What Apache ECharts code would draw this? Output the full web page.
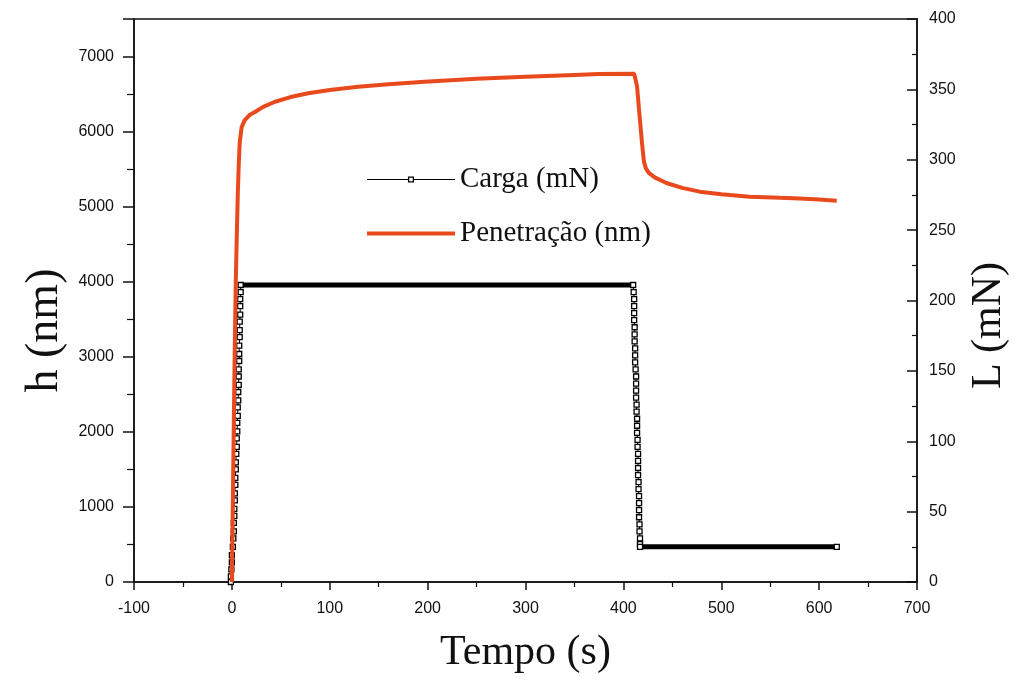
<!DOCTYPE html>
<html>
<head>
<meta charset="utf-8">
<script src="https://cdn.jsdelivr.net/npm/echarts@6/dist/echarts.min.js"></script>
<style>html,body{margin:0;padding:0;background:#fff}#c{width:1018px;height:681px}</style>
</head>
<body>
<div id="c"></div>
<script>
// Penetração (nm) — left axis
const penT = [0,1,2,3,4,5,6,7,8,10,13,18,24,32,44,60,78,100,129,160,197,250,300,350,375,411,412,414,416,418,419,421,423,426,432,444,460,478,500,529,560,580,600,618];
const penH = [0,1050,2150,3150,4000,4600,5150,5550,5850,6060,6150,6220,6265,6330,6398,6460,6510,6555,6598,6630,6665,6705,6730,6755,6767,6770,6720,6600,6290,6000,5850,5600,5510,5450,5390,5315,5250,5200,5165,5133,5118,5110,5095,5080];

// Carga (mN) — right axis
const cargaT = [-1,-1,-0.5,0,0,1,1.5,2,2,2.5,2.5,3,3,3.5,3.5,4,4,4.5,5,5,5.5,5.5,6,6,6.5,6.5,7,7,7,7.5,7.5,7.5,8,8,8,8.5,8.5,8.5,9,9,
  410,410.5,411,411,411,411,411.5,411.5,411.5,412,412,412,412.5,413,413,413,413,413.5,413.5,414,414,414,414.5,414.5,415,415,415,415,415.5,415.5,416,416,416,416,416.5,416.5,417,417,417,618];
const cargaL = [0,4,9,14,19,25,31,36,42,47,52,58,63,69,74,80,85,91,96,102,107,113,118,124,129,135,140,146,151,157,162,168,174,179,185,190,196,201,206,211,
  211,206,201,196,191,186,181,176,171,166,161,156,151,146,141,136,131,126,121,116,111,106,101,96,91,86,81,76,71,66,61,56,51,46,41,36,31,27,25,25];

const xTicks = {min:-100, max:700, interval:100};
const hAxis = {min:0, max:7500, interval:1000};
const lAxis = {min:0, max:400, interval:50};

const names = {x:'Tempo (s)', h:'h (nm)', l:'L (mN)', carga:'Carga (mN)', pen:'Penetração (nm)'};

const penData = penT.map((t,i)=>[t,penH[i]]);
const cargaData = cargaT.map((t,i)=>[t,cargaL[i]]);
// long constant holds (densely sampled in the original) drawn as a solid band
const holdData = [];
for (let i=0;i<cargaT.length-1;i++){
  if (cargaL[i]===cargaL[i+1] && cargaT[i+1]-cargaT[i]>20){
    holdData.push(cargaData[i], cargaData[i+1], null);
  }
}

const RED = '#e84a1d';
const tickFont = {fontFamily:'Liberation Sans, Arial, sans-serif', fontSize:16, color:'#111', formatter:(v)=>String(v)};
const serif = 'Liberation Serif, Times New Roman, serif';
const nameFont = {fontFamily:serif, fontSize:42, color:'#111'};
const axisLineStyle = {color:'#111', width:1.5};

// legend icons (line with a small hollow square / thick red line)
const cargaIcon = 'path://M0,6.4L40,6.4L40,7.6L0,7.6Z M40,4L46,4L46,10L40,10Z M41.3,5.3L41.3,8.7L44.7,8.7L44.7,5.3Z M46,6.4L86,6.4L86,7.6L46,7.6Z';
const penIcon = 'path://M0,0L88,0L88,4L0,4Z';

const chart = echarts.init(document.getElementById('c'), null, {renderer:'canvas'});
chart.setOption({
  backgroundColor:'#fff',
  animation:false,
  grid:{left:134, right:100, top:19, bottom:99, show:true, borderColor:'#111', borderWidth:1.5, containLabel:false},
  legend:{
    data:[
      {name:names.carga, icon:cargaIcon, itemStyle:{color:'#000', borderWidth:0}},
      {name:names.pen, icon:penIcon, itemStyle:{color:RED, borderWidth:0}}
    ],
    orient:'vertical', left:362, top:160, itemWidth:88, itemHeight:14, itemGap:25,
    textStyle:{fontFamily:serif, fontSize:29, color:'#111'},
    selectedMode:false
  },
  xAxis:{
    type:'value', min:xTicks.min, max:xTicks.max, interval:xTicks.interval,
    name:names.x, nameLocation:'middle', nameGap:50, nameTextStyle:nameFont,
    axisLine:{show:true, onZero:false, lineStyle:axisLineStyle},
    axisTick:{show:true, inside:false, length:8, lineStyle:{color:'#111', width:1.5}},
    minorTick:{show:true, splitNumber:2, length:5, lineStyle:{color:'#111', width:1.2}},
    axisLabel:Object.assign({margin:19}, tickFont),
    splitLine:{show:false}
  },
  yAxis:[{
    type:'value', position:'left', min:hAxis.min, max:hAxis.max, interval:hAxis.interval,
    name:names.h, nameLocation:'middle', nameGap:60, nameRotate:90,
    nameTextStyle:Object.assign({}, nameFont, {fontSize:46, padding:[0,60,0,0]}),
    axisLine:{show:true, onZero:false, lineStyle:axisLineStyle},
    axisTick:{show:true, inside:false, length:11, lineStyle:{color:'#111', width:1.5}},
    minorTick:{show:true, splitNumber:2, length:7, lineStyle:{color:'#111', width:1.2}},
    axisLabel:Object.assign({margin:20, showMaxLabel:false}, tickFont),
    splitLine:{show:false}
  },{
    type:'value', position:'right', min:lAxis.min, max:lAxis.max, interval:lAxis.interval,
    name:names.l, nameLocation:'middle', nameGap:51, nameRotate:90,
    nameTextStyle:Object.assign({}, nameFont, {padding:[0,50,0,0]}),
    axisLine:{show:true, onZero:false, lineStyle:axisLineStyle},
    axisTick:{show:true, inside:true, length:10, lineStyle:{color:'#111', width:1.5}},
    minorTick:{show:true, splitNumber:2, length:5, lineStyle:{color:'#111', width:1.2}},
    axisLabel:Object.assign({margin:12}, tickFont),
    splitLine:{show:false}
  }],
  series:[{
    name:names.carga+'-hold', type:'line', yAxisIndex:1, data:holdData, showSymbol:false,
    connectNulls:false, lineStyle:{color:'#000', width:5}, z:2, silent:true
  },{
    name:names.carga, type:'line', yAxisIndex:1, data:cargaData,
    symbol:'rect', symbolSize:5, showAllSymbol:true,
    itemStyle:{color:'#fff', borderColor:'#000', borderWidth:1.3},
    lineStyle:{color:'#000', width:1}, z:3
  },{
    name:names.pen, type:'line', yAxisIndex:0, data:penData,
    showSymbol:false, symbol:'none',
    itemStyle:{color:RED},
    lineStyle:{color:RED, width:4}, z:4
  }]
});
</script>
</body>
</html>
